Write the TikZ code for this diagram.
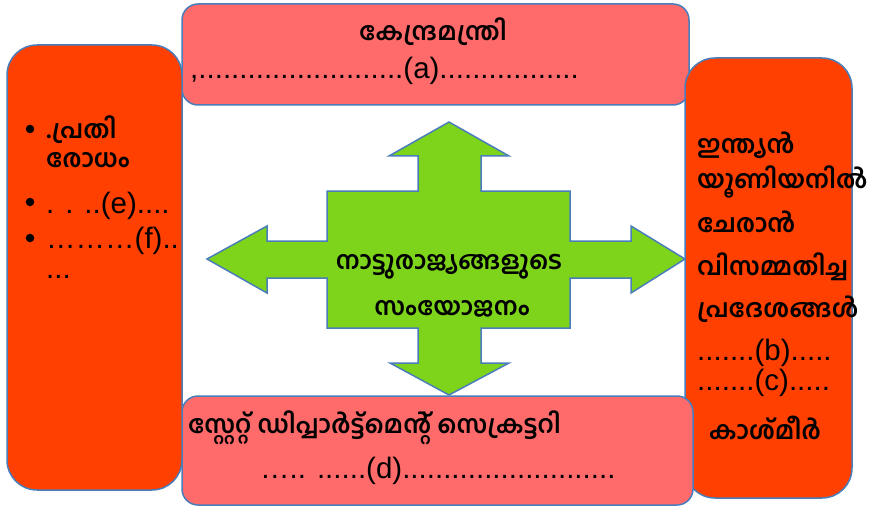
\documentclass[tikz,border=0pt]{standalone}
\usepackage{fontspec}
\setmainfont{Liberation Sans}
\newfontfamily\mal[Script=Malayalam]{Hind Kochi}
\usetikzlibrary{positioning}

\definecolor{edgeblue}{RGB}{74,126,187}
\definecolor{pinkbox}{RGB}{255,106,106}
\definecolor{redbox}{RGB}{255,64,0}
\definecolor{crossgreen}{RGB}{126,211,27}

\tikzset{
    pinkpanel/.style = {draw = edgeblue, fill = pinkbox, line width = 1.5pt, rounded corners = 16pt, inner sep = 0pt},
    redpanel/.style = {draw = edgeblue, fill = redbox, line width = 1.5pt, rounded corners = 30pt, inner sep = 0pt},
    mltext/.style = {font = \mal\bfseries\fontsize{25}{29}\selectfont, inner sep = 0pt},
    dottext/.style = {font = \fontsize{29.5}{33}\selectfont, inner sep = 0pt},
    bulletdot/.style = {circle, fill = black, inner sep = 0pt, minimum size = 8.5pt}
}

\begin{document}
\begin{tikzpicture}[x = 1pt, y = -1pt]
    \useasboundingbox (0, 0) rectangle (873, 508);

    % the four way arrow in the middle
    \draw[draw = edgeblue, fill = crossgreen, line width = 1.5pt, line join = miter]
        (449, 122) -- (509, 156) -- (481, 156) -- (481, 191) -- (570, 191) -- (570, 241)
        -- (631, 241) -- (631, 226) -- (685, 259) -- (631, 293) -- (631, 278) -- (570, 278)
        -- (570, 328) -- (481, 328) -- (481, 363) -- (509, 363) -- (449, 395) -- (390, 363)
        -- (418, 363) -- (418, 328) -- (327, 328) -- (327, 278) -- (267, 278) -- (267, 293)
        -- (207, 259) -- (267, 226) -- (267, 241) -- (327, 241) -- (327, 191) -- (418, 191)
        -- (418, 156) -- (389, 156) -- cycle;
    \node[mltext] (merge1) at (449, 267) {നാട്ടുരാജ്യങ്ങളുടെ};
    \node[mltext] (merge2) at (452, 309) {സംയോജനം};

    % boxes
    \node[pinkpanel, minimum width = 507pt, minimum height = 101pt] (minister) at (435.5, 54.5) {};
    \node[redpanel, minimum width = 167pt, minimum height = 440pt] (refused) at (768.5, 278) {};
    \node[pinkpanel, minimum width = 511pt, minimum height = 109pt] (secretary) at (437.5, 450.5) {};
    \node[redpanel, minimum width = 175pt, minimum height = 445pt] (methods) at (94.5, 267.5) {};

    % top box
    \node[mltext] (minister1) at (433, 32) {കേന്ദ്രമന്ത്രി};
    \node[dottext, anchor = base west] (minister2) at (190, 79) {,.........................(a).................};

    % bottom box
    \node[mltext, anchor = west] (secretary1) at (188, 428) {സ്റ്റേറ്റ് ഡിപ്പാർട്ട്മെന്റ് സെക്രട്ടറി};
    \node[dottext, anchor = base west] (secretary2) at (260, 478) {….. ......(d)..........................};

    % left box
    \node[bulletdot] (dot1) at (30, 129) {};
    \node[mltext, anchor = west] (methods1) at (46, 130) {.പ്രതി};
    \node[mltext, anchor = west] (methods2) at (46, 160) {രോധം};
    \node[bulletdot] (dot2) at (30, 202) {};
    \node[dottext, anchor = base west] (methods3) at (46, 213) {. . ..(e)....};
    \node[bulletdot] (dot3) at (30, 238) {};
    \node[dottext, anchor = base west] (methods4) at (46, 248) {………(f)..};
    \node[dottext, anchor = base west] (methods5) at (46, 278) {...};

    % right box
    \node[mltext, anchor = west] (refused1) at (697, 145) {ഇന്ത്യൻ};
    \node[mltext, anchor = west] (refused2) at (697, 182) {യൂണിയനിൽ};
    \node[mltext, anchor = west] (refused3) at (697, 222) {ചേരാൻ};
    \node[mltext, anchor = west] (refused4) at (697, 267) {വിസമ്മതിച്ച};
    \node[mltext, anchor = west] (refused5) at (697, 309) {പ്രദേശങ്ങൾ};
    \node[dottext, anchor = base west] (refused6) at (697, 360) {.......(b).....};
    \node[dottext, anchor = base west] (refused7) at (697, 390) {.......(c).....};
    \node[mltext] (refused8) at (765, 428) {കാശ്മീർ};
\end{tikzpicture}
\end{document}
